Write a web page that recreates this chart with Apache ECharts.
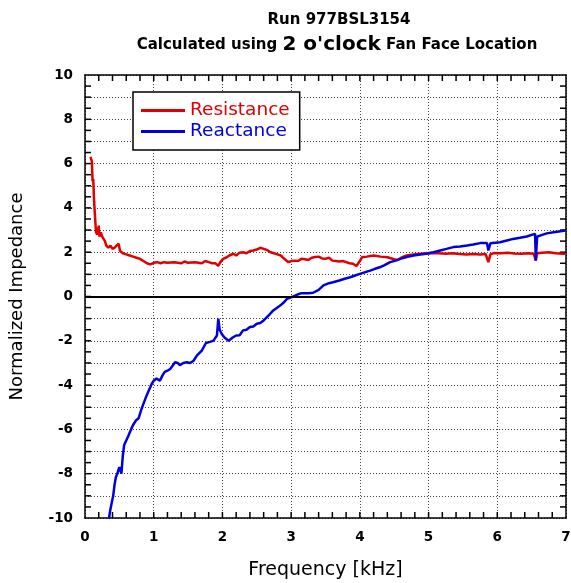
<!DOCTYPE html>
<html>
<head>
<meta charset="utf-8">
<script src="https://cdn.jsdelivr.net/npm/echarts@6/dist/echarts.min.js"></script>
<style>
  html, body { margin: 0; padding: 0; background: #fff; }
  #chart { width: 571px; height: 583px; }
</style>
</head>
<body>
<div id="chart"></div>
<script>
// Resistance curve: frequency [kHz] and normalized value
const resFreq = [0.08,0.10,0.11,0.12,0.13,0.14,0.15,0.16,0.18,0.20,0.21,0.23,0.25,0.27,0.29,0.31,0.34,0.37,0.40,0.43,0.46,0.49,0.51,0.55,0.60,0.65,0.70,0.75,0.80,0.85,0.90,0.95,1.00,1.05,1.10,1.15,1.20,1.30,1.40,1.45,1.50,1.60,1.70,1.75,1.80,1.85,1.90,1.94,1.97,2.01,2.05,2.10,2.16,2.20,2.25,2.30,2.35,2.40,2.45,2.50,2.55,2.60,2.65,2.70,2.75,2.80,2.85,2.90,2.96,3.00,3.05,3.10,3.15,3.20,3.25,3.30,3.35,3.40,3.45,3.50,3.55,3.60,3.65,3.70,3.75,3.80,3.85,3.90,3.95,4.00,4.03,4.10,4.20,4.30,4.40,4.50,4.55,4.60,4.68,4.75,4.85,4.95,5.05,5.15,5.25,5.35,5.45,5.55,5.65,5.75,5.83,5.87,5.90,5.95,6.05,6.15,6.25,6.35,6.45,6.53,6.56,6.58,6.65,6.75,6.85,6.95,7.00];
const resistance = [6.3,6.1,5.2,5.3,4.5,3.9,3.4,2.9,2.8,3.2,2.7,2.9,2.7,2.75,2.5,2.3,2.2,2.3,2.15,2.2,2.3,2.38,2.05,1.95,1.9,1.85,1.8,1.75,1.7,1.6,1.5,1.45,1.52,1.55,1.5,1.55,1.52,1.55,1.5,1.58,1.52,1.55,1.5,1.6,1.55,1.5,1.5,1.38,1.55,1.7,1.75,1.85,1.93,1.85,1.98,2.0,1.95,2.05,2.08,2.12,2.2,2.15,2.1,2.0,1.95,1.9,1.85,1.7,1.55,1.6,1.62,1.6,1.7,1.68,1.65,1.75,1.78,1.8,1.72,1.7,1.75,1.62,1.6,1.58,1.6,1.55,1.5,1.48,1.38,1.6,1.77,1.8,1.85,1.8,1.77,1.68,1.65,1.75,1.85,1.88,1.92,1.95,1.96,1.95,1.93,1.95,1.92,1.9,1.92,1.9,1.92,1.55,1.9,1.96,1.95,1.97,1.94,1.93,1.95,1.93,1.62,1.95,1.98,2.0,1.95,1.93,1.93];

// Reactance curve
const reaFreq = [0.35,0.37,0.39,0.41,0.43,0.45,0.47,0.50,0.53,0.55,0.57,0.60,0.63,0.67,0.70,0.74,0.78,0.82,0.85,0.88,0.92,0.95,0.97,1.00,1.04,1.09,1.13,1.16,1.20,1.24,1.28,1.31,1.35,1.38,1.43,1.48,1.53,1.58,1.63,1.70,1.76,1.82,1.87,1.92,1.94,1.96,1.99,2.03,2.09,2.15,2.20,2.25,2.30,2.35,2.40,2.45,2.50,2.55,2.60,2.67,2.74,2.80,2.84,2.90,2.94,3.03,3.10,3.15,3.25,3.32,3.40,3.47,3.55,3.61,3.70,3.78,3.86,3.93,4.00,4.08,4.15,4.22,4.29,4.36,4.44,4.52,4.59,4.68,4.78,4.88,4.97,5.07,5.17,5.26,5.36,5.46,5.56,5.65,5.75,5.85,5.87,5.90,6.04,6.14,6.23,6.33,6.43,6.50,6.55,6.56,6.58,6.62,6.72,6.82,6.92,6.99];
const reactance = [-10,-9.6,-9.3,-9.0,-8.5,-8.15,-8.0,-7.7,-8.0,-7.2,-6.7,-6.5,-6.3,-6.0,-5.8,-5.6,-5.5,-5.1,-4.85,-4.6,-4.3,-4.1,-3.95,-3.8,-3.7,-3.8,-3.55,-3.4,-3.35,-3.27,-3.1,-2.97,-3.0,-3.1,-3.0,-2.97,-3.0,-2.9,-2.66,-2.44,-2.1,-2.05,-1.99,-1.76,-1.0,-1.5,-1.69,-1.85,-2.0,-1.85,-1.76,-1.75,-1.53,-1.5,-1.38,-1.35,-1.23,-1.2,-1.08,-0.86,-0.63,-0.5,-0.41,-0.25,-0.1,0.0,0.1,0.15,0.15,0.17,0.3,0.5,0.6,0.64,0.72,0.8,0.87,0.95,1.02,1.1,1.17,1.25,1.32,1.42,1.55,1.62,1.7,1.78,1.85,1.9,1.93,2.0,2.08,2.15,2.23,2.26,2.3,2.35,2.41,2.42,2.08,2.4,2.45,2.53,2.6,2.65,2.71,2.78,2.83,1.63,2.7,2.75,2.85,2.9,2.95,2.98];

// Tick mark positions on the frame (every 0.2 kHz and every 0.5 units)
const xTickPos = [0.2,0.4,0.6,0.8,1,1.2,1.4,1.6,1.8,2,2.2,2.4,2.6,2.8,3,3.2,3.4,3.6,3.8,4,4.2,4.4,4.6,4.8,5,5.2,5.4,5.6,5.8,6,6.2,6.4,6.6,6.8];
const yTickPos = [-9.5,-9,-8.5,-8,-7.5,-7,-6.5,-6,-5.5,-5,-4.5,-4,-3.5,-3,-2.5,-2,-1.5,-1,-0.5,0,0.5,1,1.5,2,2.5,3,3.5,4,4.5,5,5.5,6,6.5,7,7.5,8,8.5,9,9.5];

const xMin = 0, xMax = 7;
const yMin = -10, yMax = 10;
const TICK_LEN = 6;

const pairs = (xs, ys) => xs.map((x, i) => [x, ys[i]]);

const tickFont = () => ({ fontFamily: 'DejaVu Sans', fontWeight: 'bold', fontSize: 13.5, color: '#000' });
const dotted = () => ({ show: true, lineStyle: { type: [1, 2], color: '#444', width: 1 } });
const frame = () => ({ show: true, onZero: false, lineStyle: { color: '#000', width: 1.5 } });
const tickStyle = { stroke: '#000', lineWidth: 1.5 };

// Inward tick marks on bottom/top edges
function renderXTick(params, api) {
  const x = api.value(0);
  const b = api.coord([x, yMin]);
  const t = api.coord([x, yMax]);
  return {
    type: 'group',
    children: [
      { type: 'line', shape: { x1: b[0], y1: b[1], x2: b[0], y2: b[1] - TICK_LEN }, style: tickStyle },
      { type: 'line', shape: { x1: t[0], y1: t[1], x2: t[0], y2: t[1] + TICK_LEN }, style: tickStyle }
    ]
  };
}

// Inward tick marks on left/right edges
function renderYTick(params, api) {
  const y = api.value(1);
  const l = api.coord([xMin, y]);
  const r = api.coord([xMax, y]);
  return {
    type: 'group',
    children: [
      { type: 'line', shape: { x1: l[0], y1: l[1], x2: l[0] + TICK_LEN, y2: l[1] }, style: tickStyle },
      { type: 'line', shape: { x1: r[0], y1: r[1], x2: r[0] - TICK_LEN, y2: r[1] }, style: tickStyle }
    ]
  };
}

const chart = echarts.init(document.getElementById('chart'));
chart.setOption({
  animation: false,
  backgroundColor: '#fff',
  title: [
    {
      text: 'Run 977BSL3154',
      left: 334, top: 8, textAlign: 'center',
      textStyle: { fontFamily: 'DejaVu Sans', fontWeight: 'bold', fontSize: 15, color: '#000' }
    },
    {
      text: '{b|Calculated using }{c|2 o\'clock}{b| Fan Face Location}',
      left: 332, top: 30, textAlign: 'center',
      textStyle: {
        rich: {
          b: { fontFamily: 'DejaVu Sans', fontWeight: 'bold', fontSize: 15, color: '#000' },
          c: { fontFamily: 'DejaVu Sans', fontWeight: 'bold', fontSize: 20, color: '#000' }
        }
      }
    }
  ],
  legend: {
    orient: 'vertical',
    left: 133, top: 92,
    padding: [9, 10, 9, 8],
    itemGap: 2,
    itemWidth: 44, itemHeight: 3,
    icon: 'rect',
    borderColor: '#000', borderWidth: 1.5,
    backgroundColor: '#fff',
    textStyle: { fontFamily: 'DejaVu Sans', fontSize: 18.5, lineHeight: 18 },
    data: [
      { name: 'Resistance', textStyle: { color: '#e00000' } },
      { name: 'Reactance', textStyle: { color: '#0000dd' } }
    ]
  },
  grid: { left: 85, top: 75, width: 481, height: 443, outerBoundsMode: 'none', containLabel: false },
  xAxis: [
    {
      type: 'value', min: xMin, max: xMax, interval: 1,
      name: 'Frequency [kHz]', nameLocation: 'middle', nameGap: 43,
      nameTextStyle: { fontFamily: 'DejaVu Sans', fontSize: 19, color: '#000' },
      axisLine: frame(), axisTick: { show: false }, minorTick: { show: false },
      axisLabel: Object.assign({ margin: 12 }, tickFont()),
      splitLine: dotted()
    },
    {
      type: 'value', min: xMin, max: xMax, interval: 1, position: 'top',
      axisLine: frame(), axisTick: { show: false }, minorTick: { show: false },
      axisLabel: { show: false },
      splitLine: { show: false }
    }
  ],
  yAxis: [
    {
      type: 'value', min: yMin, max: yMax, interval: 1,
      name: 'Normalized Impedance', nameLocation: 'middle', nameGap: 59,
      nameTextStyle: { fontFamily: 'DejaVu Sans', fontSize: 18, color: '#000' },
      axisLine: frame(), axisTick: { show: false }, minorTick: { show: false },
      axisLabel: Object.assign({
        margin: 12,
        formatter: v => (v % 2 === 0 ? String(v) : '')
      }, tickFont()),
      splitLine: dotted()
    },
    {
      type: 'value', min: yMin, max: yMax, interval: 1, position: 'right',
      axisLine: frame(), axisTick: { show: false }, minorTick: { show: false },
      axisLabel: { show: false },
      splitLine: { show: false }
    }
  ],
  series: [
    {
      name: 'xTicks', type: 'custom', silent: true, clip: false, z: 2,
      data: xTickPos.map(x => [x, yMin]),
      encode: { x: 0, y: 1 },
      renderItem: renderXTick
    },
    {
      name: 'yTicks', type: 'custom', silent: true, clip: false, z: 2,
      data: yTickPos.map(y => [xMin, y]),
      encode: { x: 0, y: 1 },
      renderItem: renderYTick
    },
    {
      name: 'Resistance', type: 'line',
      data: pairs(resFreq, resistance),
      showSymbol: false, symbol: 'none',
      lineStyle: { color: '#e00000', width: 2.5 },
      itemStyle: { color: '#e00000' },
      z: 3,
      markLine: {
        silent: true, symbol: 'none', label: { show: false },
        lineStyle: { color: '#000', width: 2, type: 'solid' },
        data: [{ yAxis: 0 }]
      }
    },
    {
      name: 'Reactance', type: 'line',
      data: pairs(reaFreq, reactance),
      showSymbol: false, symbol: 'none',
      lineStyle: { color: '#0000dd', width: 2.5 },
      itemStyle: { color: '#0000dd' },
      z: 4
    }
  ]
});
</script>
</body>
</html>
